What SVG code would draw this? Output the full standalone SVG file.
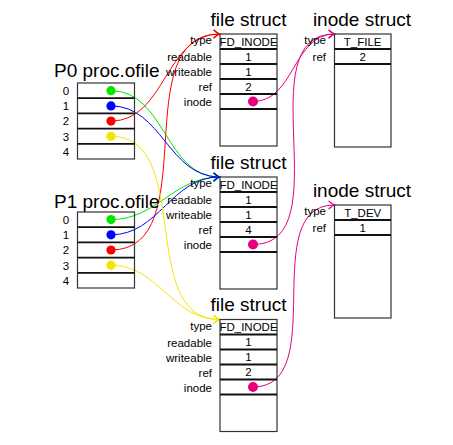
<svg xmlns="http://www.w3.org/2000/svg" width="453" height="445" viewBox="0 0 453 445">
<style>
text{font-family:"Liberation Sans",Arial,sans-serif;fill:#000}
.title{font-size:19px}
.lbl{font-size:11.5px;text-anchor:end}
.idx{font-size:11.5px;text-anchor:middle}
.val{font-size:11.5px;text-anchor:middle}
.box{fill:none;stroke:#333;stroke-width:1.2}
.sep{stroke:#111;stroke-width:1.8}
.c{fill:none;stroke-width:1}
</style>
<defs>
<marker id="aR" viewBox="-7 -5 9 10" refX="0" refY="0" markerWidth="9" markerHeight="10" markerUnits="userSpaceOnUse" orient="auto"><path d="M-5.5,-3.8 Q-2,-0.7 0,0 Q-2,0.7 -5.5,3.8" fill="none" stroke="#ff0000" stroke-width="1.2" stroke-linecap="round"/></marker>
<marker id="aG" viewBox="-7 -5 9 10" refX="0" refY="0" markerWidth="9" markerHeight="10" markerUnits="userSpaceOnUse" orient="auto"><path d="M-5.5,-3.8 Q-2,-0.7 0,0 Q-2,0.7 -5.5,3.8" fill="none" stroke="#00e600" stroke-width="1.2" stroke-linecap="round"/></marker>
<marker id="aB" viewBox="-7 -5 9 10" refX="0" refY="0" markerWidth="9" markerHeight="10" markerUnits="userSpaceOnUse" orient="auto"><path d="M-5.5,-3.8 Q-2,-0.7 0,0 Q-2,0.7 -5.5,3.8" fill="none" stroke="#0000ff" stroke-width="1.2" stroke-linecap="round"/></marker>
<marker id="aY" viewBox="-7 -5 9 10" refX="0" refY="0" markerWidth="9" markerHeight="10" markerUnits="userSpaceOnUse" orient="auto"><path d="M-5.5,-3.8 Q-2,-0.7 0,0 Q-2,0.7 -5.5,3.8" fill="none" stroke="#f5e600" stroke-width="1.2" stroke-linecap="round"/></marker>
<marker id="aM" viewBox="-7 -5 9 10" refX="0" refY="0" markerWidth="9" markerHeight="10" markerUnits="userSpaceOnUse" orient="auto"><path d="M-5.5,-3.8 Q-2,-0.7 0,0 Q-2,0.7 -5.5,3.8" fill="none" stroke="#e6007e" stroke-width="1.2" stroke-linecap="round"/></marker>
</defs>

<g id="connectors">
<path class="c" stroke="#ff0000" marker-end="url(#aR)" d="M111,121.1 C165.5,121.1 165,34 219.5,34"/>
<path class="c" stroke="#ff0000" marker-end="url(#aR)" d="M111,250 C205.6,250 124.9,34 219.5,34"/>
<path class="c" stroke="#00e600" marker-end="url(#aG)" d="M111,90.7 C165.3,90.7 165.2,177 219.5,177"/>
<path class="c" stroke="#0000ff" marker-end="url(#aB)" d="M111,105.9 C161.8,105.9 168.7,177 219.5,177"/>
<path class="c" stroke="#00e600" marker-end="url(#aG)" d="M111,219.6 C156.6,219.6 173.9,177 219.5,177"/>
<path class="c" stroke="#0000ff" marker-end="url(#aB)" d="M111,234.8 C159.1,234.8 171.4,177 219.5,177"/>
<path class="c" stroke="#f5e600" marker-end="url(#aY)" d="M111,136.3 C194.4,136.3 136.1,319.5 219.5,319.5"/>
<path class="c" stroke="#f5e600" marker-end="url(#aY)" d="M111,265.2 C158.5,265.2 172,319.5 219.5,319.5"/>
<path class="c" stroke="#e6007e" marker-end="url(#aM)" d="M253,101.5 C294.7,101.5 292.8,34 334.5,34"/>
<path class="c" stroke="#e6007e" marker-end="url(#aM)" d="M253,244.5 C341.6,244.5 245.9,34 334.5,34"/>
<path class="c" stroke="#e6007e" marker-end="url(#aM)" d="M253,387 C331.1,387 256.4,205 334.5,205"/>
</g>

<g id="p0">
<text class="title" x="54" y="77">P0 proc.ofile</text>
<rect class="box" x="77.5" y="83" width="57" height="76"/>
<line class="sep" x1="77.5" y1="98.2" x2="134.5" y2="98.2"/>
<line class="sep" x1="77.5" y1="113.4" x2="134.5" y2="113.4"/>
<line class="sep" x1="77.5" y1="128.6" x2="134.5" y2="128.6"/>
<line class="sep" x1="77.5" y1="143.8" x2="134.5" y2="143.8"/>
<text class="idx" x="66" y="95">0</text>
<text class="idx" x="66" y="110.2">1</text>
<text class="idx" x="66" y="125.4">2</text>
<text class="idx" x="66" y="140.6">3</text>
<text class="idx" x="66" y="155.8">4</text>
<circle cx="111" cy="90.7" r="4.6" fill="#00e600"/>
<circle cx="111" cy="105.9" r="4.6" fill="#0000ff"/>
<circle cx="111" cy="121.1" r="4.6" fill="#ff0000"/>
<circle cx="111" cy="136.3" r="4.6" fill="#f5e600"/>
</g>

<g id="p1">
<text class="title" x="54" y="208">P1 proc.ofile</text>
<rect class="box" x="77.5" y="212" width="57" height="76"/>
<line class="sep" x1="77.5" y1="227.2" x2="134.5" y2="227.2"/>
<line class="sep" x1="77.5" y1="242.4" x2="134.5" y2="242.4"/>
<line class="sep" x1="77.5" y1="257.6" x2="134.5" y2="257.6"/>
<line class="sep" x1="77.5" y1="272.8" x2="134.5" y2="272.8"/>
<text class="idx" x="66" y="224">0</text>
<text class="idx" x="66" y="239.2">1</text>
<text class="idx" x="66" y="254.4">2</text>
<text class="idx" x="66" y="269.6">3</text>
<text class="idx" x="66" y="284.8">4</text>
<circle cx="111" cy="219.6" r="4.6" fill="#00e600"/>
<circle cx="111" cy="234.8" r="4.6" fill="#0000ff"/>
<circle cx="111" cy="250" r="4.6" fill="#ff0000"/>
<circle cx="111" cy="265.2" r="4.6" fill="#f5e600"/>
</g>

<g id="file1">
<text class="title" x="248.5" y="26" text-anchor="middle">file struct</text>
<rect class="box" x="220" y="34" width="57" height="112"/>
<line class="sep" x1="220" y1="49" x2="277" y2="49"/>
<line class="sep" x1="220" y1="64" x2="277" y2="64"/>
<line class="sep" x1="220" y1="79" x2="277" y2="79"/>
<line class="sep" x1="220" y1="94" x2="277" y2="94"/>
<line class="sep" x1="220" y1="109" x2="277" y2="109"/>
<text class="lbl" x="212" y="44">type</text>
<text class="lbl" x="212" y="61">readable</text>
<text class="lbl" x="212" y="76">writeable</text>
<text class="lbl" x="212" y="91">ref</text>
<text class="lbl" x="212" y="106">inode</text>
<text class="val" x="248.5" y="45.5">FD_INODE</text>
<text class="val" x="248.5" y="60.5">1</text>
<text class="val" x="248.5" y="75.5">1</text>
<text class="val" x="248.5" y="90.5">2</text>
<circle cx="253" cy="101.5" r="5" fill="#e6007e"/>
</g>

<g id="file2">
<text class="title" x="248.5" y="168.5" text-anchor="middle">file struct</text>
<rect class="box" x="220" y="177" width="57" height="112"/>
<line class="sep" x1="220" y1="192" x2="277" y2="192"/>
<line class="sep" x1="220" y1="207" x2="277" y2="207"/>
<line class="sep" x1="220" y1="222" x2="277" y2="222"/>
<line class="sep" x1="220" y1="237" x2="277" y2="237"/>
<line class="sep" x1="220" y1="252" x2="277" y2="252"/>
<text class="lbl" x="212" y="187">type</text>
<text class="lbl" x="212" y="204">readable</text>
<text class="lbl" x="212" y="219">writeable</text>
<text class="lbl" x="212" y="234">ref</text>
<text class="lbl" x="212" y="249">inode</text>
<text class="val" x="248.5" y="188.5">FD_INODE</text>
<text class="val" x="248.5" y="203.5">1</text>
<text class="val" x="248.5" y="218.5">1</text>
<text class="val" x="248.5" y="233.5">4</text>
<circle cx="253" cy="244.5" r="5" fill="#e6007e"/>
</g>

<g id="file3">
<text class="title" x="248.5" y="311" text-anchor="middle">file struct</text>
<rect class="box" x="220" y="319.5" width="57" height="112"/>
<line class="sep" x1="220" y1="334.5" x2="277" y2="334.5"/>
<line class="sep" x1="220" y1="349.5" x2="277" y2="349.5"/>
<line class="sep" x1="220" y1="364.5" x2="277" y2="364.5"/>
<line class="sep" x1="220" y1="379.5" x2="277" y2="379.5"/>
<line class="sep" x1="220" y1="394.5" x2="277" y2="394.5"/>
<text class="lbl" x="212" y="329.5">type</text>
<text class="lbl" x="212" y="346.5">readable</text>
<text class="lbl" x="212" y="361.5">writeable</text>
<text class="lbl" x="212" y="376.5">ref</text>
<text class="lbl" x="212" y="391.5">inode</text>
<text class="val" x="248.5" y="331">FD_INODE</text>
<text class="val" x="248.5" y="346">1</text>
<text class="val" x="248.5" y="361">1</text>
<text class="val" x="248.5" y="376">2</text>
<circle cx="253" cy="387" r="5" fill="#e6007e"/>
</g>

<g id="inode1">
<text class="title" x="362" y="26" text-anchor="middle">inode struct</text>
<rect class="box" x="334.5" y="34" width="56.5" height="113"/>
<line class="sep" x1="334.5" y1="49" x2="391" y2="49"/>
<line class="sep" x1="334.5" y1="64" x2="391" y2="64"/>
<text class="lbl" x="326" y="44">type</text>
<text class="lbl" x="326" y="61">ref</text>
<text class="val" x="362.7" y="45.5">T_FILE</text>
<text class="val" x="362.7" y="60.5">2</text>
</g>

<g id="inode2">
<text class="title" x="362" y="197" text-anchor="middle">inode struct</text>
<rect class="box" x="334.5" y="205" width="56.5" height="113"/>
<line class="sep" x1="334.5" y1="220" x2="391" y2="220"/>
<line class="sep" x1="334.5" y1="235" x2="391" y2="235"/>
<text class="lbl" x="326" y="215">type</text>
<text class="lbl" x="326" y="232">ref</text>
<text class="val" x="362.7" y="216.5">T_DEV</text>
<text class="val" x="362.7" y="231.5">1</text>
</g>
</svg>
